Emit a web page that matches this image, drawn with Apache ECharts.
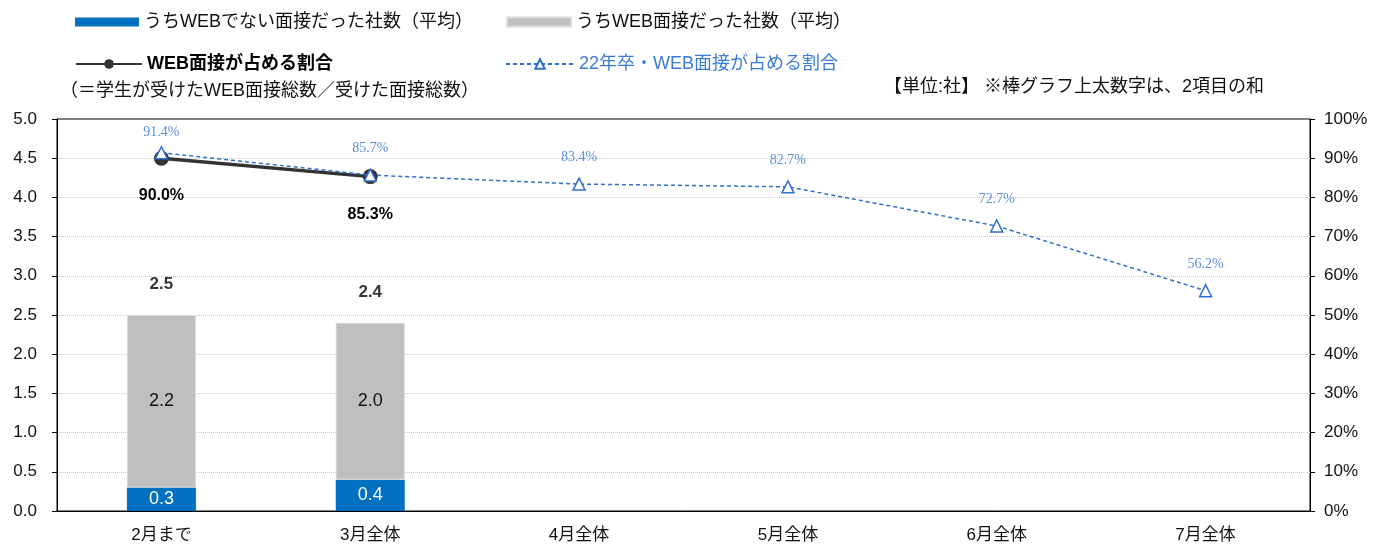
<!DOCTYPE html>
<html>
<head>
<meta charset="utf-8">
<script src="https://cdn.jsdelivr.net/npm/echarts@6/dist/echarts.min.js"></script>
<style>
  html, body { margin: 0; padding: 0; background: #fff; }
  #chart { width: 1384px; height: 551px; }
</style>
</head>
<body>
<div id="chart"></div>
<script>
// カテゴリ
const categories = ['2月まで', '3月全体', '4月全体', '5月全体', '6月全体', '7月全体']
// うちWEBでない面接だった社数（平均）
const nonWebCount = [0.3, 0.4, null, null, null, null]
// うちWEB面接だった社数（平均）
const webCount = [2.2, 2.0, null, null, null, null]
// 棒グラフ上の合計
const totalCount = [2.5, 2.4, null, null, null, null]
// WEB面接が占める割合
const webRatio = [0.900, 0.853, null, null, null, null]
// 22年卒・WEB面接が占める割合
const webRatio22 = [0.914, 0.857, 0.834, 0.827, 0.727, 0.562]

const jp = '"Liberation Sans", "Noto Sans CJK JP", sans-serif'
const chart = echarts.init(document.getElementById('chart'))

// 先頭のラベルだけ枠線にかからないよう少し下げる
const webRatio22Data = webRatio22.map((v, i) => (i === 0 ? { value: v, label: { distance: 7 } } : v))

const option = {
  backgroundColor: '#fff',
  textStyle: { fontFamily: jp },
  grid: { left: 57, right: 74, top: 119, bottom: 40, show: true, borderColor: '#000', borderWidth: 1 },
  legend: [
    { data: ['うちWEBでない面接だった社数（平均）'], left: 70, top: 8, icon: 'rect', itemWidth: 64, itemHeight: 9,
      textStyle: { fontSize: 18, color: '#111', fontFamily: jp } },
    { data: ['うちWEB面接だった社数（平均）'], left: 501, top: 8, icon: 'rect', itemWidth: 64, itemHeight: 9,
      textStyle: { fontSize: 18, color: '#111', fontFamily: jp } },
    { data: ['WEB面接が占める割合'], left: 70, top: 50, itemWidth: 66, itemHeight: 12,
      textStyle: { fontSize: 18, color: '#000', fontWeight: 'bold', fontFamily: jp } },
    { data: ['22年卒・WEB面接が占める割合'], left: 500, top: 50, itemWidth: 68, itemHeight: 12,
      textStyle: { fontSize: 18, color: '#3a7bd5', fontFamily: jp } }
  ],
  graphic: [
    { type: 'text', left: 60, top: 82, style: { text: '（＝学生が受けたWEB面接総数／受けた面接総数）', font: '18px ' + jp, fill: '#111' } },
    { type: 'text', left: 884, top: 78, style: { text: '【単位:社】 ※棒グラフ上太数字は、2項目の和', font: '18px ' + jp, fill: '#111' } }
  ],
  xAxis: [
    {
      type: 'category',
      data: categories,
      axisLine: { lineStyle: { color: '#000' } },
      axisTick: { inside: true, length: 6, lineStyle: { color: '#000' } },
      axisLabel: { color: '#111', fontSize: 17, margin: 16, fontFamily: jp }
    },
    {
      // 上枠線
      type: 'category', position: 'top', data: categories, z: 10,
      axisLine: { show: true, lineStyle: { color: '#000' } },
      axisTick: { show: false }, axisLabel: { show: false }, splitLine: { show: false }
    }
  ],
  yAxis: [
    {
      type: 'value', min: 0, max: 5, interval: 0.5,
      axisLine: { show: true, lineStyle: { color: '#000' } },
      axisTick: { show: true, length: 5, lineStyle: { color: '#000' } },
      axisLabel: { color: '#111', fontSize: 17, margin: 20, formatter: v => v.toFixed(1), fontFamily: jp },
      splitLine: { showMaxLine: false, lineStyle: { color: '#c8c8c8', type: 'dotted' } }
    },
    {
      type: 'value', min: 0, max: 1, interval: 0.1,
      axisLine: { show: true, lineStyle: { color: '#000' } },
      axisTick: { show: true, length: 5, lineStyle: { color: '#000' } },
      axisLabel: { color: '#111', fontSize: 17, margin: 14, formatter: v => Math.round(v * 100) + '%', fontFamily: jp },
      splitLine: { show: false }
    }
  ],
  series: [
    {
      name: 'うちWEBでない面接だった社数（平均）', type: 'bar', stack: 'cnt', barWidth: 69,
      data: nonWebCount,
      itemStyle: { color: '#0070c0' },
      label: { show: true, position: 'inside', color: '#fff', fontSize: 18, formatter: p => p.value.toFixed(1) }
    },
    {
      name: 'うちWEB面接だった社数（平均）', type: 'bar', stack: 'cnt', barWidth: 69,
      data: webCount,
      itemStyle: { color: '#bfbfbf', borderColor: '#d9d9d9', borderWidth: 1 },
      label: { show: true, position: 'inside', color: '#111', fontSize: 18, formatter: p => p.value.toFixed(1) }
    },
    {
      name: 'total', type: 'scatter', data: totalCount, symbolSize: 0, silent: true,
      label: { show: true, position: 'top', distance: 22, color: '#000', fontSize: 17, fontWeight: 'bold', formatter: p => p.value.toFixed(1) }
    },
    {
      name: 'WEB面接が占める割合', type: 'line', yAxisIndex: 1, data: webRatio,
      symbol: 'circle', symbolSize: 15, z: 3,
      lineStyle: { color: '#333', width: 3.5 },
      itemStyle: { color: '#333' },
      label: { show: true, position: 'bottom', distance: 22, color: '#000', fontSize: 16, fontWeight: 'bold', formatter: p => (p.value * 100).toFixed(1) + '%' }
    },
    {
      name: '22年卒・WEB面接が占める割合', type: 'line', yAxisIndex: 1, data: webRatio22Data,
      symbol: 'triangle', symbolSize: 12, z: 4,
      lineStyle: { color: '#2f6fd0', width: 1.5, type: [4, 3] },
      itemStyle: { color: '#fff', borderColor: '#2f6fd0', borderWidth: 1.5 },
      label: { show: true, position: 'top', distance: 13, color: '#5b8fdb', fontSize: 14, fontFamily: '"Liberation Serif", "DejaVu Serif", serif', formatter: p => (p.value * 100).toFixed(1) + '%' }
    }
  ]
}

chart.setOption(option)
</script>
</body>
</html>
